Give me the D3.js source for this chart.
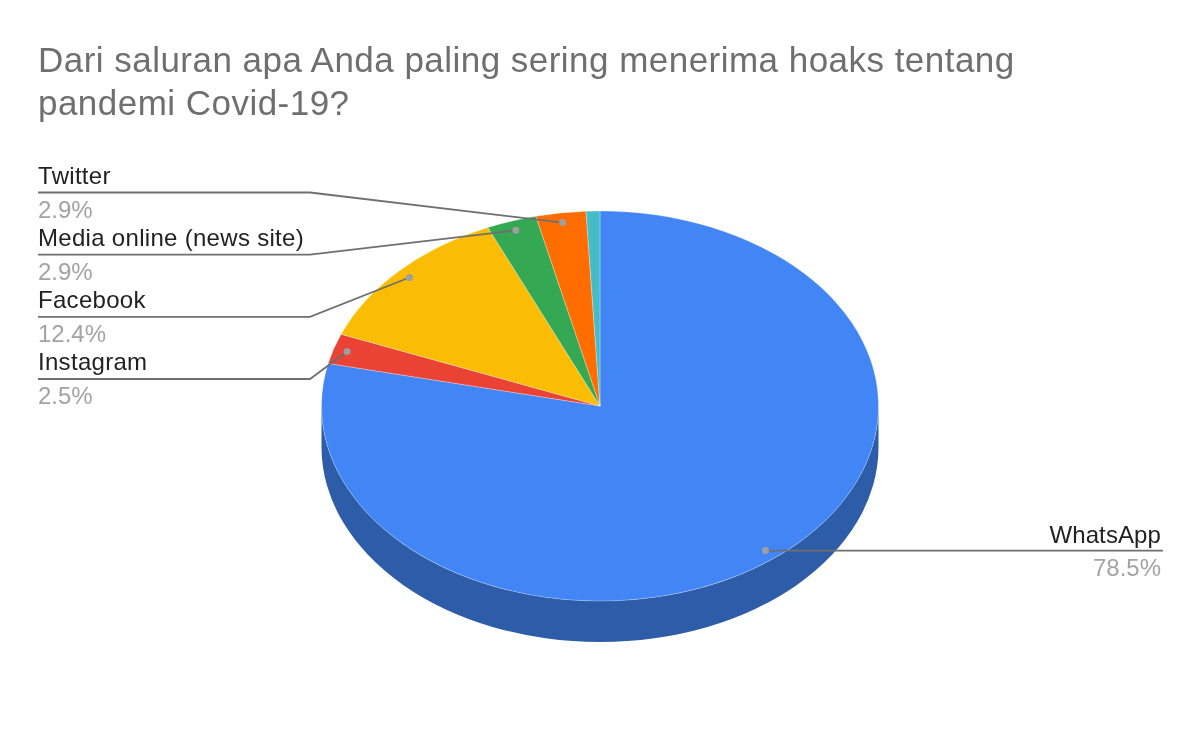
<!DOCTYPE html>
<html>
<head>
<meta charset="utf-8">
<title>Hoaks Covid-19</title>
<script src="https://cdn.jsdelivr.net/npm/d3@7"></script>
<style>
  html, body { margin: 0; padding: 0; background: #fff; }
  text { font-family: "Liberation Sans", Arial, sans-serif; }
  /* the reference is a soft, upscaled screenshot */
  svg { filter: blur(0.45px); }
</style>
</head>
<body>
<div id="chart"></div>
<script>
// data, in drawing order (clockwise from 12 o'clock)
const categories = ['WhatsApp', 'Instagram', 'Facebook', 'Media online (news site)', 'Twitter', 'Lainnya']
const values = [78.5, 2.5, 12.4, 2.9, 2.9, 0.8]
const valueLabels = ['78.5%', '2.5%', '12.4%', '2.9%', '2.9%', '']
const colors = ['#4285f4', '#ea4335', '#fbbc04', '#34a853', '#ff6d01', '#46bdc6']
const titleLines = ['Dari saluran apa Anda paling sering menerima hoaks tentang', 'pandemi Covid-19?']

const width = 1200
const height = 742
const cx = 600
const cy = 406
const rx = 278.5
const ry = 195
const depth = 41
const dotFraction = 0.95

const svg = d3.select('#chart').append('svg')
  .attr('width', width)
  .attr('height', height)
  .style('display', 'block')

svg.append('g')
  .selectAll('text')
  .data(titleLines)
  .enter()
  .append('text')
  .attr('x', 38)
  .attr('y', (d, i) => 72 + i * 43)
  .attr('font-size', 35)
  .attr('letter-spacing', 0.47)
  .attr('fill', '#6f6f6f')
  .text(d => d)

// side wall of the tilted pie, only WhatsApp is visible there
svg.append('path')
  .attr('d', `M${cx - rx},${cy} A${rx},${ry} 0 0 0 ${cx + rx},${cy} L${cx + rx},${cy + depth} A${rx},${ry} 0 0 1 ${cx - rx},${cy + depth} Z`)
  .attr('fill', '#2d5ca9')

const pie = d3.pie().sort(null).value(d => d)
const slices = pie(values)
const arc = d3.arc().innerRadius(0).outerRadius(rx)

svg.append('g')
  .attr('transform', `translate(${cx},${cy}) scale(1,${ry / rx})`)
  .selectAll('path')
  .data(slices)
  .enter()
  .append('path')
  .attr('d', arc)
  .attr('fill', (d, i) => colors[i])
  .attr('stroke', '#fff')
  .attr('stroke-width', 0.4)
  .attr('stroke-opacity', 0.7)
  .attr('vector-effect', 'non-scaling-stroke')

// point on the tilted pie where a leader line starts
const anchor = d => {
  const a = (d.startAngle + d.endAngle) / 2
  return [cx + Math.sin(a) * rx * dotFraction, cy - Math.cos(a) * ry * dotFraction]
}

// left column, top to bottom
const leftRows = [4, 3, 2, 1]
const rowY = d3.scaleLinear().domain([0, 3]).range([192.5, 379])
const leftX = 38
const elbowX = 310

const line = d3.line()
const leaders = svg.append('g')

leftRows.forEach((s, i) => {
  const y = rowY(i)
  const p = anchor(slices[s])
  leaders.append('path')
    .attr('d', line([[leftX, y], [elbowX, y], p]))
    .attr('fill', 'none')
    .attr('stroke', '#6f6f6f')
    .attr('stroke-width', 1.8)
  leaders.append('circle')
    .attr('cx', p[0]).attr('cy', p[1]).attr('r', 3.5)
    .attr('fill', '#9e9e9e')
  leaders.append('text')
    .attr('x', leftX).attr('y', y - 9)
    .attr('font-size', 24).attr('letter-spacing', 0.3).attr('fill', '#222')
    .text(categories[s])
  leaders.append('text')
    .attr('x', leftX).attr('y', y + 25)
    .attr('font-size', 24).attr('fill', '#a3a3a3')
    .text(valueLabels[s])
})

// WhatsApp sits on its own at the right
const pw = anchor(slices[0])
const rightX = 1163
leaders.append('path')
  .attr('d', line([[rightX, pw[1]], pw]))
  .attr('fill', 'none')
  .attr('stroke', '#6f6f6f')
  .attr('stroke-width', 1.8)
leaders.append('circle')
  .attr('cx', pw[0]).attr('cy', pw[1]).attr('r', 3.5)
  .attr('fill', '#9e9e9e')
leaders.append('text')
  .attr('x', rightX - 2).attr('y', pw[1] - 8)
  .attr('text-anchor', 'end')
  .attr('font-size', 24).attr('letter-spacing', 0.1).attr('fill', '#222')
  .text(categories[0])
leaders.append('text')
  .attr('x', rightX - 2).attr('y', pw[1] + 25)
  .attr('text-anchor', 'end')
  .attr('font-size', 24).attr('fill', '#a3a3a3')
  .text(valueLabels[0])
</script>
</body>
</html>
